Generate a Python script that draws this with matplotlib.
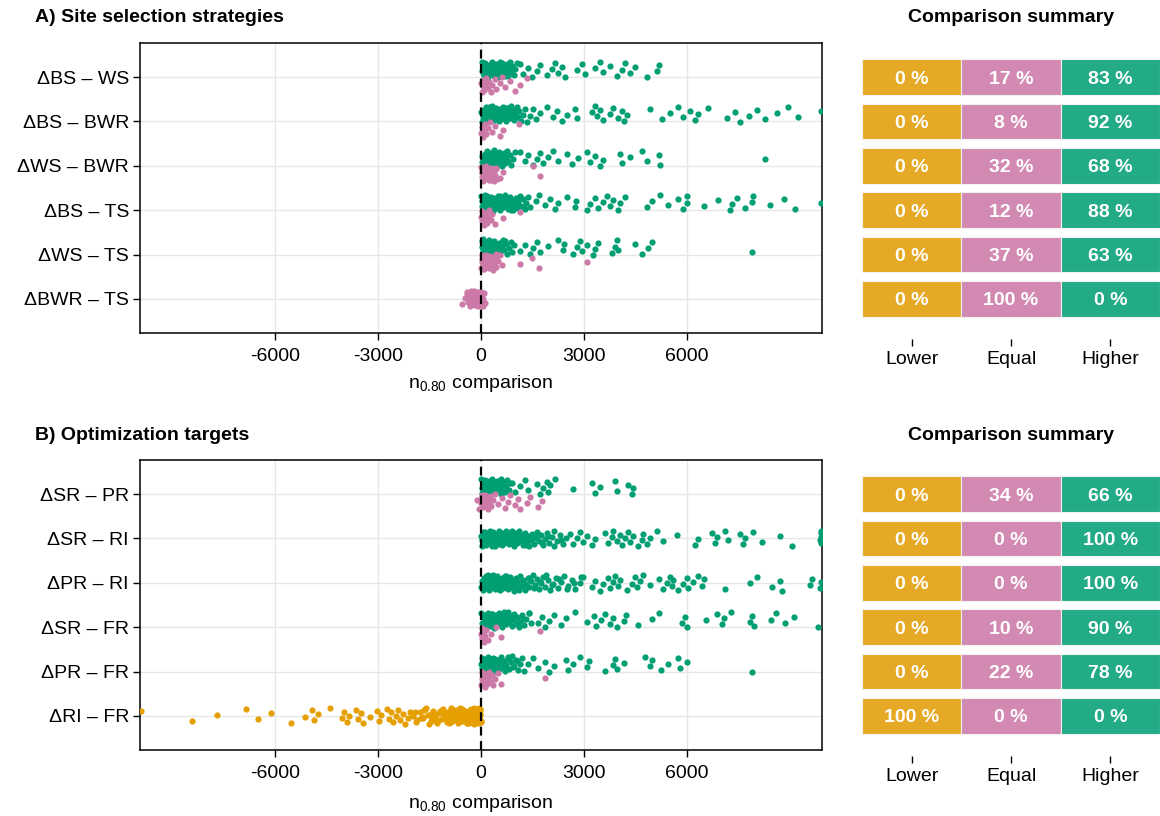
import numpy as np
import matplotlib.pyplot as plt

plt.rcParams['font.family'] = ['Liberation Sans', 'DejaVu Sans']
plt.rcParams['font.size'] = 14

# %% data -- n0.80 differences
# A) site selection strategies
bs_ws_hi = [15, 35, 55, 80, 100, 125, 150, 170, 195, 220, 240, 265, 290, 315, 335, 360, 385, 410, 430, 455,
            480, 505, 530, 555, 580, 600, 625, 650, 680, 705, 730, 760, 790, 820, 850, 880, 915, 950, 990, 1040,
            45, 110, 175, 250, 320, 400, 470, 545, 620, 700, 780, 870,
            1140, 1230, 1380, 1480, 1620, 1720, 1910, 2060, 2160, 2250, 2350, 2450, 2790, 2930, 3030, 3320,
            3470, 3560, 3760, 3950, 4100, 4190, 4340, 4490, 4830, 5120, 5170]
bs_ws_eq = [10, 30, 55, 75, 100, 130, 160, 200, 240, 290, 330, 410, 450, 560, 620, 700, 830, 1000, 1140, 1340]

bs_bwr_hi = [10, 30, 50, 70, 95, 115, 140, 160, 185, 205, 230, 250, 275, 300, 320, 345, 370, 390, 415, 440,
             460, 485, 510, 535, 560, 585, 610, 640, 665, 690, 720, 750, 780, 810, 840, 870, 900, 935, 970,
             1000, 1040, 1080, 1120, 1170, 1220, 1280, 60, 150, 240, 330, 420, 520, 620, 730, 850, 960,
             1330, 1420, 1500, 1600, 1720, 1910, 2110, 2200, 2350, 2500, 2740, 2790, 3220, 3320, 3370, 3470,
             3560, 3760, 3850, 4000, 4100, 4150, 4240, 4920, 5260, 5500, 5750, 5890, 6090, 6230, 6330, 6620,
             7160, 7400, 7540, 7790, 8030, 8270, 8610, 8950, 9240, 9900]
bs_bwr_eq = [5, 25, 50, 75, 110, 150, 200, 260, 330, 410, 550, 640, 1100]

ws_bwr_hi = [15, 35, 60, 80, 105, 130, 150, 175, 200, 225, 250, 275, 300, 325, 350, 375, 400, 430, 455, 480,
             510, 540, 570, 600, 630, 660, 690, 720, 760, 800, 840, 880, 930, 980, 50, 140, 230, 320, 410, 520,
             640, 1140, 1280, 1380, 1520, 1620, 1720, 1820, 1960, 2110, 2250, 2500, 2640, 2830, 3080, 3170,
             3320, 3470, 3560, 4050, 4100, 4340, 4680, 4830, 5170, 5210, 8270]
ws_bwr_eq = [5, 20, 40, 55, 75, 95, 115, 135, 160, 180, 205, 230, 255, 280, 310, 340, 370, 400, 440, 480,
             30, 90, 150, 220, 290, 360, 450, 550, 650, 1520, 1720]

bs_ts_hi = [10, 30, 50, 70, 90, 115, 135, 155, 180, 200, 225, 245, 270, 290, 315, 340, 360, 385, 410, 435,
            460, 485, 510, 535, 560, 590, 615, 640, 670, 700, 730, 760, 790, 820, 850, 880, 910, 945, 980,
            1015, 1050, 1090, 1130, 1170, 1220, 1270, 1320, 1380, 1440, 40, 120, 200, 280, 370, 460, 550, 650,
            750, 860, 970, 1100, 1240, 1600, 1700, 1860, 2010, 2160, 2250, 2500, 2740, 2760, 3080, 3170, 3320,
            3420, 3560, 3660, 3760, 3850, 4000, 4050, 4190, 4830, 4970, 5210, 5460, 5750, 5890, 5990, 6010,
            6480, 6910, 7250, 7300, 7450, 7690, 7880, 7930, 8420, 8810, 9150, 9900]
bs_ts_eq = [5, 20, 40, 60, 85, 110, 140, 170, 200, 240, 280, 310, 410, 650, 1140]

ws_ts_hi = [15, 35, 60, 85, 110, 135, 160, 185, 210, 240, 265, 290, 320, 350, 380, 410, 440, 470, 500, 530,
            565, 600, 640, 680, 720, 760, 810, 860, 910, 970, 50, 170, 300, 430, 560, 700,
            1140, 1280, 1430, 1520, 1620, 1720, 1960, 2250, 2400, 2420, 2690, 2790, 2880, 2930, 3080, 3270,
            3320, 3420, 3810, 3900, 3950, 4000, 4490, 4680, 4870, 4970, 7880]
ws_ts_eq = [5, 15, 30, 45, 60, 75, 90, 105, 120, 140, 160, 180, 200, 220, 245, 270, 295, 320, 350, 380,
            410, 450, 490, 540, 600, 25, 70, 130, 190, 260, 340, 430, 1140, 1480, 1700, 3080]

bwr_ts_eq = [-560, -480, -420, -380, -340, -310, -280, -260, -240, -220, -200, -180, -165, -150, -135, -120,
             -105, -90, -75, -60, -45, -30, -15, 0, 15, 30, 50, 70, 95, 120, -350, -290, -250, -210, -170,
             -130, -95, -55, -20, 10, 40, -400, -300, -190, -110, -40]

# B) optimization targets
sr_pr_hi = [10, 30, 50, 70, 95, 120, 145, 170, 195, 220, 245, 270, 300, 330, 360, 390, 420, 450, 480, 510,
            545, 580, 615, 650, 690, 730, 770, 810, 850, 40, 130, 230, 340, 460, 590, 720,
            900, 1000, 1140, 1280, 1380, 1620, 1720, 1820, 1910, 1960, 2010, 2160, 2690, 3220, 3320, 3470,
            3900, 3950, 4290, 4390, 4440]
sr_pr_eq = [-130, -60, 10, 30, 55, 80, 105, 130, 160, 190, 220, 260, 300, 350, 410, 500, 600, 700, 800,
            840, 990, 1090, 1140, 1330, 1430, 1670, 1770, 20, 90, 170]

sr_ri_hi = [10, 25, 40, 60, 75, 90, 110, 125, 145, 160, 180, 200, 215, 235, 255, 275, 295, 315, 335, 355,
            380, 400, 420, 445, 465, 490, 510, 535, 560, 580, 605, 630, 655, 680, 705, 730, 760, 785, 810,
            840, 870, 895, 925, 955, 985, 1015, 1045, 1080, 1110, 1145, 1180, 1215, 1250, 1290, 1330, 1370,
            1410, 1450, 1490, 1540, 1590, 1640, 1690, 1740, 1800, 1860, 1920, 1990, 2060, 2140, 2220, 2300,
            2400, 2480, 50, 140, 230, 320, 430, 540, 650, 770, 900, 1030, 1170, 1310, 1460, 1620, 1780, 1950,
            2120, 2330, 2590, 2690, 2790, 2880, 2980, 3080, 3220, 3320, 3610, 3710, 3810, 3850, 3950, 4050,
            4100, 4190, 4290, 4340, 4440, 4580, 4680, 4730, 4830, 4920, 5120, 5310, 5700, 6230, 6330, 6720,
            6820, 6860, 7110, 7200, 7540, 7640, 7690, 7930, 8170, 8710, 9050, 9880, 9890, 9900, 9900, 9910]

pr_ri_hi = [10, 30, 50, 70, 90, 110, 135, 155, 175, 200, 220, 245, 265, 290, 315, 340, 365, 390, 415, 440,
            465, 490, 520, 545, 575, 600, 630, 660, 690, 720, 750, 785, 815, 850, 885, 920, 955, 990, 1030,
            1065, 1105, 1145, 1185, 1230, 1270, 1315, 1360, 1410, 1460, 1510, 1560, 1620, 1680, 1740, 1800,
            1870, 1940, 2010, 2090, 2170, 2250, 2340, 2430, 2530, 2640, 2750, 2870, 2980, 40, 120, 210, 300,
            400, 500, 610, 720, 840, 970, 1100, 1240, 1390, 1550, 1710, 1890, 2070, 2280, 2500, 2700, 2900,
            3220, 3320, 3470, 3560, 3710, 3760, 3850, 3900, 4000, 4050, 4240, 4390, 4490, 4530, 4630, 4730,
            4920, 5170, 5310, 5410, 5500, 5550, 5600, 5750, 5890, 5990, 6040, 6180, 6330, 6430, 6480, 7110,
            7830, 8030, 8470, 8710, 8760, 9580, 9630, 9870, 9900]

sr_fr_hi = [10, 30, 55, 75, 100, 120, 145, 170, 190, 215, 240, 265, 290, 315, 340, 365, 390, 420, 445, 475,
            500, 530, 560, 590, 620, 650, 680, 715, 750, 785, 820, 855, 890, 930, 970, 1010, 1050, 1100, 1150,
            1200, 1260, 1320, 1390, 1460, 45, 135, 230, 330, 430, 540, 660, 790, 920, 1070, 1230, 1400,
            1660, 1790, 1860, 1990, 2130, 2330, 2470, 2740, 3080, 3280, 3350, 3490, 3620, 3760, 3830, 3960,
            4170, 4230, 4570, 4980, 5180, 5860, 5930, 6000, 6540, 6880, 7010, 7080, 7290, 7830, 7900, 7960,
            8440, 8580, 8850, 9120, 9800]
sr_fr_eq = [5, 20, 40, 65, 90, 120, 160, 210, 300, 430, 570, 1720]

pr_fr_hi = [10, 30, 50, 75, 95, 120, 140, 165, 190, 215, 240, 265, 290, 320, 345, 375, 405, 435, 465, 495,
            530, 560, 595, 630, 665, 700, 740, 780, 820, 865, 910, 960, 1010, 1070, 1130, 1190, 40, 130, 220,
            320, 420, 530, 650, 780, 920, 1060, 1250, 1380, 1520, 1660, 1860, 1990, 2130, 2470, 2540, 2670,
            2880, 3080, 3150, 3620, 3830, 3890, 3960, 4170, 4780, 4910, 4980, 5250, 5450, 5730, 5790, 6000, 7900]
pr_fr_eq = [5, 15, 30, 50, 70, 90, 115, 140, 165, 195, 230, 270, 310, 360, 420, 500, 20, 60, 110, 180, 250,
            570, 1860]

ri_fr_lo = [-5, -20, -40, -55, -75, -95, -115, -135, -160, -180, -205, -225, -250, -275, -300, -325, -350,
            -380, -405, -435, -465, -495, -525, -560, -595, -630, -665, -700, -740, -780, -820, -860, -905,
            -950, -1000, -1050, -1100, -1150, -1210, -1270, -1330, -1400, -1470, -1540, -1620, -1700, -1790,
            -1880, -1970, -30, -85, -145, -210, -280, -355, -440, -530, -625, -725, -830, -940, -1060, -1180,
            -1310, -1450, -1600, -1760, -1930, -10, -65, -125, -190, -260, -340, -420, -510, -610, -720, -840,
            -970, -1120, -1280, -1460, -1650, -1850, -15, -50, -100, -150, -200, -240, -290, -330, -370, -410,
            -450, -490, -540, -580, -620, -680, -760, -880, -1020, -1130, -1240, -1360, -1520, -1680,
            -9900, -8410, -7680, -6850, -6490, -6120, -5540, -5130,
            -4930, -4860, -4750, -4410, -4040, -3980, -3910, -3840, -3640, -3570, -3500, -3430, -3230, -3030,
            -2960, -2900, -2750, -2690, -2620, -2550, -2480, -2420, -2350, -2280, -2210, -2140, -2080]

labels_a = ['ΔBS – WS', 'ΔBS – BWR', 'ΔWS – BWR', 'ΔBS – TS', 'ΔWS – TS', 'ΔBWR – TS']
labels_b = ['ΔSR – PR', 'ΔSR – RI', 'ΔPR – RI', 'ΔSR – FR', 'ΔPR – FR', 'ΔRI – FR']

# summary percentages (lower / equal / higher)
lower_a = [0, 0, 0, 0, 0, 0]
equal_a = [17, 8, 32, 12, 37, 100]
higher_a = [83, 92, 68, 88, 63, 0]
lower_b = [0, 0, 0, 0, 0, 100]
equal_b = [34, 0, 0, 10, 22, 0]
higher_b = [66, 100, 100, 90, 78, 0]
summary_cats = ['Lower', 'Equal', 'Higher']

# %% style
C_LO, C_EQ, C_HI = '#E69F00', '#CC79A7', '#009E73'
BAR_COLS = ['#E6A926', '#D38AB2', '#23AA87']
XLIM = (-9930, 9930)
YLIM = (5.77, -0.77)
W, H = 1160, 816


def jitter(n, k, half=0.18):
    # deterministic spread (golden ratio sequence)
    return ((np.arange(n) * 0.6180339887 + 0.37 * k) % 1.0 - 0.5) * 2 * half


def strip(ax, rows, labels):
    for i, groups in enumerate(rows):
        present = [(v, c) for v, c in groups if len(v)]
        offs = [0.0] if len(present) == 1 else [-0.17, 0.17]
        for k, ((vals, col), off) in enumerate(zip(present, offs)):
            y = i + off + jitter(len(vals), i + k)
            ax.scatter(vals, y, s=20, color=col, lw=0, zorder=3, clip_on=True)
    ax.axvline(0, color='black', ls=(0, (4, 2.5)), lw=1.6, zorder=4)
    ax.set_xlim(*XLIM)
    ax.set_ylim(*YLIM)
    ax.set_yticks(range(len(labels)), labels)
    ax.set_xticks([-6000, -3000, 0, 3000, 6000], ['-6000', '-3000', '0', '3000', '6000'])
    ax.tick_params(axis='y', length=5, width=1, pad=3, labelsize=14)
    ax.tick_params(axis='x', length=5, width=1, pad=6, labelsize=14)
    ax.grid(True, color='#e6e6e6', lw=1)
    ax.set_axisbelow(True)
    for sp in ax.spines.values():
        sp.set_linewidth(1.1)


def summary(ax, lo, eq, hi):
    for j, vals in enumerate([lo, eq, hi]):
        ax.barh(range(len(vals)), 1.0, left=j + 0.5, height=0.8, color=BAR_COLS[j],
                edgecolor='#f2f2f2', lw=0.8)
        for i, v in enumerate(vals):
            ax.text(j + 1, i, f'{v} %', ha='center', va='center_baseline', color='white',
                    fontsize=14, fontweight='bold')
    ax.set_xlim(0.5, 3.5)
    ax.set_ylim(*YLIM)
    ax.set_yticks([])
    ax.set_xticks([1, 2, 3], summary_cats)
    for sp in ax.spines.values():
        sp.set_visible(False)
    ax.spines['bottom'].set_position(('outward', 4))
    ax.tick_params(axis='x', length=5, width=1, pad=4, labelsize=14)


fig = plt.figure(figsize=(W / 100, H / 100), dpi=100)


def box(x0, y0, x1, y1):
    return [x0 / W, 1 - y1 / H, (x1 - x0) / W, (y1 - y0) / H]


ax_a = fig.add_axes(box(140, 43, 822, 333))
ax_sa = fig.add_axes(box(862, 43, 1160, 333))
ax_b = fig.add_axes(box(140, 460, 822, 750))
ax_sb = fig.add_axes(box(862, 460, 1160, 750))

rows_a = [[(bs_ws_hi, C_HI), (bs_ws_eq, C_EQ)],
          [(bs_bwr_hi, C_HI), (bs_bwr_eq, C_EQ)],
          [(ws_bwr_hi, C_HI), (ws_bwr_eq, C_EQ)],
          [(bs_ts_hi, C_HI), (bs_ts_eq, C_EQ)],
          [(ws_ts_hi, C_HI), (ws_ts_eq, C_EQ)],
          [(bwr_ts_eq, C_EQ)]]
rows_b = [[(sr_pr_hi, C_HI), (sr_pr_eq, C_EQ)],
          [(sr_ri_hi, C_HI)],
          [(pr_ri_hi, C_HI)],
          [(sr_fr_hi, C_HI), (sr_fr_eq, C_EQ)],
          [(pr_fr_hi, C_HI), (pr_fr_eq, C_EQ)],
          [(ri_fr_lo, C_LO)]]

strip(ax_a, rows_a, labels_a)
strip(ax_b, rows_b, labels_b)
summary(ax_sa, lower_a, equal_a, higher_a)
summary(ax_sb, lower_b, equal_b, higher_b)

xlab = r'$\mathregular{n_{0.80}}$ comparison'
fig.text(481 / W, 1 - 384 / H, xlab, ha='center', va='center', fontsize=14)
fig.text(481 / W, 1 - 803 / H, xlab, ha='center', va='center', fontsize=14)

fig.text(35 / W, 1 - 18 / H, 'A) Site selection strategies', ha='left', va='center',
         fontsize=14, fontweight='bold')
fig.text(35 / W, 1 - 436 / H, 'B) Optimization targets', ha='left', va='center',
         fontsize=14, fontweight='bold')
fig.text(1011 / W, 1 - 18 / H, 'Comparison summary', ha='center', va='center',
         fontsize=14, fontweight='bold')
fig.text(1011 / W, 1 - 436 / H, 'Comparison summary', ha='center', va='center',
         fontsize=14, fontweight='bold')

fig.savefig('out.png', dpi=100, facecolor='white')
